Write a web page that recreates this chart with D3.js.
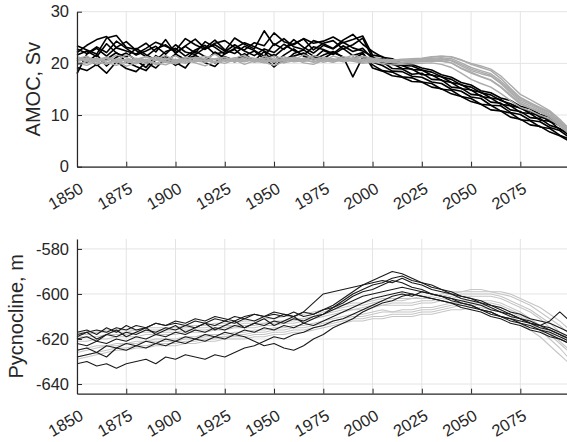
<!DOCTYPE html>
<html>
<head>
<meta charset="utf-8">
<script src="https://cdn.jsdelivr.net/npm/d3@7"></script>
<style>
  body { margin: 0; background: #fff; }
  svg { font-family: "Liberation Sans", Arial, sans-serif; }
</style>
</head>
<body>
<div id="chart"></div>
<script>
// model years, one value every 5 years
const years = d3.range(1850, 2101, 5);
const yearTicks = [1850, 1875, 1900, 1925, 1950, 1975, 2000, 2025, 2050, 2075];
const amocTicks = [0, 10, 20, 30];
const pycTicks = [-640, -620, -600, -580];

// AMOC, Sv - black ensemble
const amocBlack = [
  [22.1,23.5,24.6,25.2,23.0,22.4,21.8,22.9,24.1,23.3,22.5,24.8,23.6,22.7,23.9,24.4,23.1,22.6,24.0,23.4,25.9,24.2,23.6,24.8,23.9,24.3,25.1,24.0,24.6,25.3,21.6,21.3,20.2,19.6,19.5,18.7,18.3,17.4,16.9,15.8,15.4,14.3,13.9,12.8,12.2,11.3,10.7,9.6,9.2,7.9,6.8],
  [19.2,18.6,19.8,18.1,20.3,19.0,18.4,20.2,19.1,21.0,19.6,20.8,21.5,20.1,19.4,21.3,20.6,21.9,20.4,21.1,19.3,20.9,21.4,22.0,20.7,21.6,22.3,21.2,20.8,21.9,19.7,18.6,18.3,17.4,17.2,16.4,16.1,15.0,14.8,13.6,13.2,12.1,11.9,10.8,10.4,9.1,8.9,7.7,7.4,6.1,5.3],
  [21.6,22.4,21.3,23.8,22.0,21.2,22.9,21.7,20.6,22.3,22.9,21.4,22.6,23.5,21.8,22.2,23.6,22.4,21.5,22.8,22.1,23.7,22.5,21.6,23.2,22.7,21.9,23.4,22.3,22.9,20.9,20.3,19.0,18.9,17.9,18.1,16.9,16.8,15.4,15.2,14.0,13.8,12.5,12.3,11.0,10.7,9.5,9.3,8.0,7.4,6.0],
  [22.8,21.9,23.2,22.1,24.3,22.9,21.6,22.4,23.3,21.8,23.6,22.2,21.7,23.0,24.5,22.6,21.9,23.3,22.5,21.4,23.8,22.7,24.6,23.1,22.0,23.5,22.8,24.1,23.0,22.4,21.3,20.0,19.9,19.0,18.9,17.8,17.8,16.7,16.3,15.1,14.9,13.6,13.3,12.1,11.8,10.5,10.3,9.0,8.8,7.2,6.5],
  [20.5,21.3,19.6,20.8,22.1,20.3,19.4,18.6,20.7,21.4,20.2,19.1,21.6,20.4,22.2,21.0,20.3,21.5,22.4,20.8,21.7,20.2,21.9,22.6,21.4,20.9,22.1,21.3,17.4,21.2,20.2,19.6,18.5,18.4,17.5,17.3,16.4,16.1,15.0,14.6,13.5,13.2,11.9,11.8,10.5,10.1,9.0,8.7,7.6,7.0,5.6],
  [23.4,22.6,21.8,24.9,25.4,23.1,22.7,23.9,22.2,24.6,21.9,23.4,24.7,22.9,23.6,22.4,24.9,23.7,22.8,26.3,23.5,24.8,23.2,22.7,24.4,23.8,22.9,24.5,25.6,23.7,22.3,21.2,20.9,20.0,19.8,19.1,18.7,17.8,17.3,16.3,15.8,14.7,14.3,13.3,12.8,11.7,11.2,10.1,9.6,8.4,7.2],
  [21.0,20.2,21.7,19.5,21.2,22.0,20.6,19.2,21.5,20.3,21.8,20.7,22.4,21.3,20.1,21.9,22.7,21.1,20.5,22.3,20.0,21.6,22.8,21.4,20.9,22.5,21.7,22.9,21.5,22.1,19.1,18.5,17.6,17.3,16.5,16.4,15.4,15.1,14.1,13.6,12.6,12.1,11.0,10.8,9.6,9.2,8.1,7.8,6.7,6.0,4.9],
  [18.0,21.8,22.9,21.4,23.1,24.2,22.5,21.3,22.8,23.6,22.1,23.3,22.0,24.2,23.1,21.8,22.9,24.0,23.2,22.4,21.3,22.9,23.8,24.7,22.6,23.9,24.4,22.8,23.6,24.9,21.0,20.9,19.8,19.6,18.8,18.7,17.7,17.4,16.3,15.9,14.8,14.4,13.3,13.0,11.8,11.4,10.3,10.0,8.7,8.1,6.7]
];

// AMOC, Sv - grey ensemble
const amocGray = [
  [20.9,21.4,20.3,21.1,20.6,21.7,20.8,20.2,21.3,20.7,21.5,20.4,21.2,20.9,21.8,20.5,21.0,21.6,20.3,21.4,20.8,21.3,20.6,21.7,21.0,20.5,21.4,20.9,21.6,21.1,20.9,20.7,20.6,20.8,20.9,21.0,21.3,21.4,21.2,20.6,20.0,19.5,18.9,17.6,15.8,14.0,13.0,11.9,10.8,9.2,7.3],
  [20.1,19.6,20.4,19.9,20.6,19.4,20.2,20.8,19.7,20.3,19.9,20.6,20.1,19.5,20.4,20.0,20.7,19.8,20.5,20.2,19.6,20.3,20.9,20.1,19.8,20.6,20.2,20.8,20.4,20.0,20.2,20.0,19.7,19.8,19.9,20.0,20.1,19.8,19.2,18.1,16.9,16.1,15.4,14.2,12.8,11.5,10.8,10.0,9.2,7.9,6.3],
  [21.3,20.7,21.0,20.5,21.6,21.1,20.4,21.3,20.8,21.5,20.6,21.2,20.9,21.4,20.7,21.1,20.5,21.3,21.0,20.8,21.4,20.9,21.2,20.7,21.5,21.0,20.6,21.3,20.9,21.4,21.0,20.8,20.7,20.5,20.7,20.9,21.0,21.1,20.9,20.1,19.2,18.6,18.0,16.6,14.9,13.2,12.3,11.3,10.4,8.8,7.0],
  [20.4,20.9,19.8,20.6,20.1,20.8,20.5,19.9,20.7,20.3,20.8,20.2,20.6,21.0,20.3,20.7,20.4,20.9,20.2,20.6,20.4,20.8,20.3,20.5,20.9,20.2,20.7,20.4,20.8,20.5,20.5,20.3,20.2,20.1,20.3,20.4,20.5,20.4,20.1,19.1,18.3,17.5,16.8,15.5,13.9,12.3,11.5,10.7,9.8,8.3,6.6],
  [19.8,20.5,20.9,20.2,19.6,20.4,21.0,20.6,20.1,19.7,20.5,20.9,20.3,20.7,20.1,20.6,21.1,20.4,20.8,20.5,20.2,20.7,21.1,20.6,20.3,20.9,20.5,21.0,20.7,20.4,20.7,20.6,20.4,20.2,20.5,20.6,20.8,20.9,20.6,19.8,18.9,18.3,17.7,16.3,14.6,12.9,12.1,11.2,10.1,8.6,6.9],
  [21.0,20.4,20.7,21.2,20.5,20.0,20.8,21.3,20.6,20.9,20.3,20.7,21.1,20.4,20.9,21.2,20.6,20.3,20.8,21.0,20.5,20.9,20.4,21.0,20.6,21.2,20.8,20.5,21.1,20.7,20.8,20.6,20.5,20.6,20.6,20.8,21.2,21.4,21.3,20.7,19.8,19.2,18.6,17.1,15.2,13.4,12.4,11.5,10.6,8.9,7.2],
  [20.6,21.1,20.3,19.8,20.9,20.5,19.9,20.7,21.2,20.4,20.1,20.8,20.5,20.2,20.9,20.4,20.6,21.0,20.5,20.1,20.7,20.4,20.8,20.3,21.0,20.6,20.3,20.9,20.5,20.8,20.6,20.4,20.1,20.0,20.2,20.3,20.4,20.5,20.1,19.0,18.1,17.4,16.7,15.4,13.7,12.1,11.3,10.5,9.6,8.1,6.4],
  [20.3,20.0,20.6,21.0,20.4,20.7,20.1,20.5,20.0,20.8,20.4,20.0,20.7,20.5,20.2,20.8,20.3,20.6,20.9,20.3,20.6,20.1,20.5,20.8,20.2,20.5,20.9,20.3,20.6,20.2,20.4,20.5,20.3,20.2,20.4,20.5,20.6,20.7,20.5,19.5,18.6,18.0,17.5,16.1,14.3,12.6,11.8,10.9,10.0,8.4,6.7]
];

// Pycnocline depth, m - black ensemble
const pycBlack = [
  [-617,-616,-618,-615,-617,-614,-616,-615,-613,-614,-613,-614,-612,-613,-611,-612,-610,-611,-609,-610,-609,-610,-608,-610,-609,-607,-605,-602,-599,-596,-594,-592,-590,-591,-593,-595,-597,-598,-600,-601,-602,-604,-605,-607,-609,-611,-612,-614,-615,-617,-619],
  [-631,-630,-632,-631,-633,-631,-630,-629,-631,-628,-629,-627,-628,-629,-627,-628,-626,-624,-623,-621,-619,-620,-618,-617,-615,-614,-612,-611,-609,-607,-605,-603,-601,-600,-601,-599,-600,-601,-602,-603,-604,-605,-607,-608,-610,-611,-613,-614,-616,-618,-620],
  [-628,-627,-626,-628,-624,-625,-623,-624,-622,-623,-621,-622,-620,-621,-619,-620,-618,-619,-621,-623,-622,-624,-625,-623,-620,-618,-615,-613,-611,-608,-606,-604,-603,-601,-600,-601,-602,-603,-604,-605,-606,-607,-609,-610,-611,-612,-613,-615,-616,-618,-620],
  [-618,-617,-616,-617,-615,-616,-614,-615,-613,-614,-612,-613,-611,-612,-610,-611,-612,-610,-609,-610,-608,-609,-610,-608,-609,-607,-606,-603,-600,-598,-596,-595,-593,-592,-594,-595,-596,-598,-599,-601,-602,-603,-605,-606,-608,-609,-611,-612,-613,-615,-617],
  [-620,-619,-621,-618,-619,-617,-618,-616,-617,-615,-616,-614,-615,-613,-614,-612,-613,-611,-612,-610,-611,-609,-610,-608,-604,-600,-599,-598,-597,-596,-595,-594,-595,-593,-595,-596,-598,-599,-600,-602,-603,-604,-606,-608,-609,-611,-613,-614,-612,-608,-612],
  [-622,-623,-621,-622,-620,-621,-619,-620,-618,-619,-617,-618,-616,-617,-615,-616,-614,-615,-613,-614,-612,-613,-611,-612,-610,-609,-607,-605,-603,-601,-600,-599,-598,-597,-598,-599,-600,-601,-602,-604,-605,-607,-608,-610,-611,-613,-614,-616,-618,-620,-622],
  [-619,-617,-620,-618,-616,-619,-617,-615,-618,-616,-614,-617,-615,-613,-616,-614,-612,-615,-613,-611,-614,-612,-610,-613,-611,-609,-606,-604,-601,-599,-598,-596,-594,-595,-597,-598,-600,-601,-603,-604,-605,-607,-608,-610,-612,-613,-615,-616,-617,-619,-621],
  [-625,-624,-626,-623,-624,-622,-623,-621,-622,-620,-621,-619,-620,-618,-619,-617,-618,-616,-617,-615,-616,-614,-615,-613,-614,-612,-610,-608,-606,-604,-602,-601,-600,-599,-600,-601,-602,-603,-604,-606,-607,-608,-610,-611,-613,-614,-616,-617,-619,-620,-622]
];

// Pycnocline depth, m - grey ensemble
const pycGray = [
  [-618,-618,-617,-617,-617,-617,-616,-616,-616,-616,-616,-615,-615,-615,-614,-614,-614,-613,-613,-613,-612,-612,-611,-611,-610,-608,-607,-606,-605,-605,-604,-603,-603,-603,-602,-602,-602,-601,-600,-599,-599,-599,-599,-600,-601,-603,-605,-608,-611,-614,-618],
  [-621,-621,-620,-620,-619,-619,-619,-618,-618,-618,-618,-617,-617,-617,-616,-616,-615,-615,-615,-614,-614,-613,-613,-612,-611,-610,-609,-608,-607,-607,-606,-605,-605,-605,-605,-604,-604,-603,-602,-601,-601,-601,-601,-602,-604,-606,-608,-611,-615,-618,-622],
  [-625,-624,-623,-623,-622,-622,-621,-621,-620,-620,-620,-619,-619,-618,-618,-618,-617,-617,-616,-616,-615,-615,-614,-614,-613,-612,-611,-610,-609,-609,-608,-607,-608,-607,-607,-606,-606,-605,-604,-603,-603,-603,-603,-604,-606,-608,-611,-614,-617,-621,-625],
  [-628,-627,-626,-625,-624,-624,-623,-623,-622,-622,-622,-621,-621,-620,-620,-619,-619,-619,-618,-618,-617,-617,-616,-616,-615,-614,-613,-612,-611,-611,-610,-610,-609,-609,-609,-608,-608,-607,-606,-605,-605,-605,-605,-606,-608,-610,-613,-616,-620,-624,-629],
  [-619,-619,-619,-618,-618,-618,-617,-617,-617,-617,-617,-616,-616,-616,-615,-615,-614,-614,-614,-613,-613,-612,-612,-611,-610,-609,-608,-607,-607,-606,-605,-605,-604,-604,-604,-603,-603,-602,-601,-600,-600,-600,-600,-601,-603,-605,-607,-610,-613,-617,-620],
  [-626,-625,-624,-623,-623,-622,-622,-621,-621,-621,-621,-620,-620,-619,-619,-619,-618,-618,-617,-617,-616,-616,-615,-615,-614,-613,-612,-611,-610,-610,-609,-608,-608,-608,-608,-607,-607,-606,-605,-604,-604,-604,-604,-605,-607,-609,-612,-615,-618,-622,-626],
  [-617,-617,-617,-616,-616,-616,-616,-615,-615,-615,-615,-614,-614,-614,-613,-613,-613,-612,-612,-611,-611,-610,-610,-609,-608,-607,-606,-605,-604,-604,-603,-602,-602,-602,-602,-601,-601,-600,-599,-599,-598,-598,-599,-599,-600,-602,-604,-606,-609,-612,-616],
  [-629,-628,-627,-626,-625,-625,-624,-624,-623,-623,-623,-622,-622,-621,-621,-620,-620,-620,-619,-619,-618,-618,-617,-617,-616,-615,-614,-613,-612,-612,-611,-611,-610,-610,-610,-609,-609,-608,-607,-607,-606,-606,-607,-608,-610,-613,-616,-619,-623,-627,-631]
];

const width = 567, height = 442;
const axisColor = "#262626";
const gridColor = "#e4e4e4";

const svg = d3.select("#chart").append("svg")
  .attr("width", width)
  .attr("height", height);

const x = d3.scaleLinear().domain([1850, 2100]).range([77, 569.6]);

function drawPanel(p) {
  const g = svg.append("g");
  const y = p.y;
  const [yBottom, yTop] = y.range();

  // grid
  g.append("g").selectAll("line").data(yearTicks).join("line")
    .attr("x1", d => x(d)).attr("x2", d => x(d))
    .attr("y1", yTop).attr("y2", yBottom)
    .attr("stroke", gridColor).attr("stroke-width", 1);
  g.append("g").selectAll("line").data(p.ticks).join("line")
    .attr("x1", x.range()[0]).attr("x2", x.range()[1])
    .attr("y1", d => y(d)).attr("y2", d => y(d))
    .attr("stroke", gridColor).attr("stroke-width", 1);

  const line = d3.line()
    .x((d, i) => x(years[i]))
    .y(d => y(d));

  // ensembles, drawn in the given order
  p.layers.forEach(layer => {
    g.append("g").selectAll("path").data(layer.series).join("path")
      .attr("d", line)
      .attr("fill", "none")
      .attr("stroke", layer.color)
      .attr("stroke-width", layer.width)
      .attr("stroke-linejoin", "round");
  });

  // y axis (plain hyphen for negatives, like the original)
  const yAxis = g.append("g")
    .attr("transform", `translate(${x.range()[0]},0)`)
    .call(d3.axisLeft(y).tickValues(p.ticks).tickFormat(d => String(d))
      .tickSizeInner(-5).tickSizeOuter(0).tickPadding(8));
  // x axis
  const xAxis = g.append("g")
    .attr("transform", `translate(0,${yBottom})`)
    .call(d3.axisBottom(x).tickValues(yearTicks).tickFormat(d => String(d))
      .tickSizeInner(-5).tickSizeOuter(0));

  [yAxis, xAxis].forEach(a => {
    a.attr("font-family", null);
    a.select(".domain").attr("stroke", axisColor).attr("stroke-width", 1.2);
    a.selectAll(".tick line").attr("stroke", axisColor);
    a.selectAll("text").attr("fill", axisColor).style("font-size", "16.5px");
  });

  xAxis.selectAll(".tick text")
    .attr("x", 0).attr("y", 0)
    .attr("dy", "0.71em")
    .attr("text-anchor", "end")
    .attr("transform", "translate(1,15) rotate(-30)");

  g.append("text")
    .attr("transform", `translate(${p.labelX},${(yTop + yBottom) / 2}) rotate(-90)`)
    .attr("text-anchor", "middle")
    .attr("fill", axisColor)
    .style("font-size", "20px")
    .text(p.label);
}

drawPanel({
  y: d3.scaleLinear().domain([0, 30]).range([166.7, 11.7]),
  ticks: amocTicks,
  label: "AMOC, Sv",
  labelX: 40,
  layers: [
    { series: amocBlack, color: "#000000", width: 1.6 },
    { series: amocGray, color: "#ababab", width: 1.4 }
  ]
});

drawPanel({
  y: d3.scaleLinear().domain([-644.3, -575.6]).range([393.7, 239]),
  ticks: pycTicks,
  label: "Pycnocline, m",
  labelX: 22.5,
  layers: [
    { series: pycGray, color: "#c6c6c6", width: 1.1 },
    { series: pycBlack, color: "#1a1a1a", width: 1.1 }
  ]
});
</script>
</body>
</html>
